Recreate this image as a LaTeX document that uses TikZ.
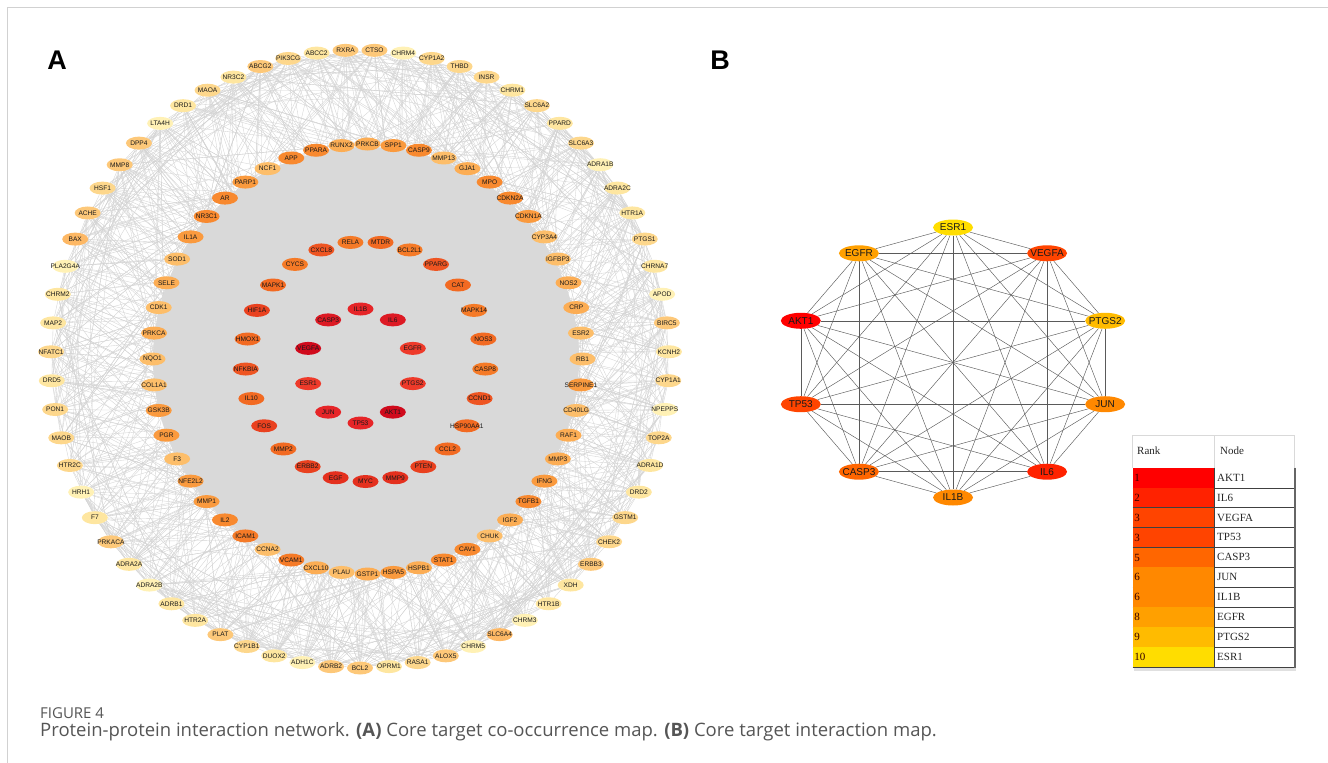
\documentclass[tikz,border=0pt]{standalone}
\usepackage{fontspec}
\setmainfont{Liberation Sans}
\newfontfamily\capfont{Open Sans}
\newfontfamily\tabfont{Liberation Serif}
\usetikzlibrary{shapes.geometric}

% node colours, outer ring -> core
\definecolor{oA}{HTML}{FFF1B5}
\definecolor{oB}{HTML}{FEE6A0}
\definecolor{oC}{HTML}{FDD78C}
\definecolor{oD}{HTML}{FDC879}
\definecolor{oE}{HTML}{FDB865}
\definecolor{mA}{HTML}{FDBE6A}
\definecolor{mB}{HTML}{FCAD54}
\definecolor{mC}{HTML}{FA9A3E}
\definecolor{mD}{HTML}{F8892F}
\definecolor{mE}{HTML}{F57A27}
\definecolor{tA}{HTML}{F57A27}
\definecolor{tB}{HTML}{F26A22}
\definecolor{tC}{HTML}{EE5522}
\definecolor{tD}{HTML}{E9411F}
\definecolor{tE}{HTML}{E4301E}
\definecolor{cA}{HTML}{EE3A2A}
\definecolor{cB}{HTML}{E62528}
\definecolor{cC}{HTML}{DD1A24}
\definecolor{cD}{HTML}{D00A1C}
% rank colours
\definecolor{rk1}{HTML}{FF0000}
\definecolor{rk2}{HTML}{FF2200}
\definecolor{rk3}{HTML}{FF4400}
\definecolor{rk5}{HTML}{FF6600}
\definecolor{rk6}{HTML}{FF8800}
\definecolor{rk8}{HTML}{FFA000}
\definecolor{rk9}{HTML}{FFBB00}
\definecolor{rk10}{HTML}{FFDD00}
\definecolor{webgray}{HTML}{D3D3D3}
\definecolor{diskgray}{HTML}{D9D9D9}
\definecolor{bondgray}{HTML}{5A5A5A}
\definecolor{capgray}{HTML}{555555}

\pgfdeclarelayer{web}
\pgfdeclarelayer{disk}
\pgfsetlayers{web,disk,main}

\begin{document}
\begin{tikzpicture}[x=1pt, y=-1pt,
        every node/.style = {inner sep=0pt},
        gene/.style = {ellipse, minimum width=26pt, minimum height=13pt,
                       font=\fontsize{6.6}{7}\selectfont, text=black!90},
        core/.style = {ellipse, minimum width=40pt, minimum height=16pt,
                       font=\fontsize{10}{11}\selectfont, text=black!90},
        webline/.style = {draw=webgray, line width=0.35pt},
        bond/.style = {draw=bondgray, line width=0.45pt},
        cell/.style = {rectangle, anchor=north west, minimum width=81.3pt, minimum height=19.9pt},
        tabtext/.style = {font=\tabfont\fontsize{11}{12}\selectfont, text=black!85, anchor=west}
        ]
\useasboundingbox (0,0) rectangle (1328,763);
\draw[draw=black!18, line width=1pt] (1328,7) -- (7,7) -- (7,763);

\node[font=\bfseries\fontsize{27}{30}\selectfont] (labA) at (57,60) {A};
\node[font=\bfseries\fontsize{27}{30}\selectfont] (labB) at (720,60) {B};

% panel A: outer ring
\foreach \nm/\cl [count=\i from 0] in {RXRA/oD, CTSO/oD, CHRM4/oA, CYP1A2/oC, THBD/oC, INSR/oC,
    CHRM1/oB, SLC6A2/oC, PPARD/oB, SLC6A3/oC, ADRA1B/oA, ADRA2C/oB, HTR1A/oB, PTGS1/oC,
    CHRNA7/oB, APOD/oA, BIRC5/oD, KCNH2/oB, CYP1A1/oC, NPEPPS/oA, TOP2A/oC, ADRA1D/oB,
    DRD2/oB, GSTM1/oC, CHEK2/oC, ERBB3/oD, XDH/oB, HTR1B/oB, CHRM3/oA, SLC6A4/oE,
    CHRM5/oA, ALOX5/oD, RASA1/oC, OPRM1/oB, BCL2/oD, ADRB2/oD, ADH1C/oA, DUOX2/oB,
    CYP1B1/oC, PLAT/oD, HTR2A/oB, ADRB1/oB, ADRA2B/oA, ADRA2A/oB, PRKACA/oD, F7/oB,
    HRH1/oA, HTR2C/oC, MAOB/oC, PON1/oC, DRD5/oB, NFATC1/oC, MAP2/oB, CHRM2/oB,
    PLA2G4A/oA, BAX/oE, ACHE/oD, HSF1/oC, MMP8/oD, DPP4/oD, LTA4H/oA, DRD1/oB,
    MAOA/oC, NR3C2/oB, ABCG2/oD, PIK3CG/oC, ABCC2/oB}
    \node[gene, fill=\cl] (o\i) at ({360+309*cos(92.69-\i*5.3731)}, {359-309*sin(92.69-\i*5.3731)}) {\makebox[0pt]{\nm}};

% second ring
\foreach \nm/\cl [count=\i from 0] in {RB1/mA, ESR2/mA, CRP/mB, NOS2/mB, IGFBP3/mA, CYP3A4/mA,
    CDKN1A/mC, CDKN2A/mD, MPO/mD, GJA1/mB, MMP13/mA, CASP9/mD, SPP1/mC, PRKCB/mB,
    RUNX2/mB, PPARA/mD, APP/mD, NCF1/mA, PARP1/mC, AR/mD, NR3C1/mD, IL1A/mC, SOD1/mA,
    SELE/mB, CDK1/mA, PRKCA/mB, NQO1/mA, COL1A1/mA, GSK3B/mC, PGR/mC, F3/mA, NFE2L2/mC,
    MMP1/mC, IL2/mD, ICAM1/mE, CCNA2/mA, VCAM1/mE, CXCL10/mB, PLAU/mA, GSTP1/mB,
    HSPA5/mC, HSPB1/mB, STAT1/mD, CAV1/mD, CHUK/mA, IGF2/mB, TGFB1/mD, IFNG/mC,
    MMP3/mB, RAF1/mB, CD40LG/mA, SERPINE1/mC}
    \node[gene, fill=\cl] (m\i) at ({367.5+215*cos(\i*6.9231)}, {359-215*sin(\i*6.9231)}) {\makebox[0pt]{\nm}};

% third ring
\foreach \nm/\cl [count=\i from 0] in {MYC/tE, EGF/tE, ERBB2/tD, MMP2/tB, FOS/tD, IL10/tB,
    NFKBIA/tC, HMOX1/tB, HIF1A/tD, MAPK1/tB, CYCS/tA, CXCL8/tC, RELA/tA, MTDR/tB,
    BCL2L1/tA, PPARG/tC, CAT/tB, MAPK14/tA, NOS3/tB, CASP8/tA, CCND1/tC, HSP90AA1/tB,
    CCL2/tB, PTEN/tD, MMP9/tE}
    \node[gene, fill=\cl] (t\i) at ({365.5+120*cos(-90-\i*14.4)}, {361.5-120*sin(-90-\i*14.4)}) {\makebox[0pt]{\nm}};

% core ring
\foreach \nm/\cl [count=\i from 0] in {IL1B/cB, IL6/cC, EGFR/cA, PTGS2/cA, AKT1/cD, TP53/cB,
    JUN/cB, ESR1/cA, VEGFA/cD, CASP3/cC}
    \node[gene, fill=\cl] (c\i) at ({360.5+55*cos(90-\i*36)}, {366-57*sin(90-\i*36)}) {\makebox[0pt]{\nm}};

\begin{pgfonlayer}{disk}
    \fill[diskgray] (366,360) circle (213);
\end{pgfonlayer}

\begin{pgfonlayer}{web}
    \pgfmathsetseed{11}
    \foreach \i in {0,...,66} {
        \foreach \k in {1,...,10} {
            \pgfmathtruncatemacro{\j}{random(0,51)}
            \draw[webline] (o\i) -- (m\j);
        }
        \foreach \k in {1,...,4} {
            \pgfmathtruncatemacro{\j}{random(0,24)}
            \draw[webline] (o\i) -- (t\j);
        }
        \foreach \k in {1,2} {
            \pgfmathtruncatemacro{\j}{random(0,9)}
            \draw[webline] (o\i) -- (c\j);
        }
        \foreach \k in {1,...,4} {
            \pgfmathtruncatemacro{\j}{mod(\i+random(2,12),67)}
            \draw[webline] (o\i) -- (o\j);
        }
    }
\end{pgfonlayer}

% panel B
\foreach \nm/\cl [count=\i from 0] in {ESR1/rk10, VEGFA/rk3, PTGS2/rk9, JUN/rk6, IL6/rk2,
    IL1B/rk6, CASP3/rk5, TP53/rk3, AKT1/rk1, EGFR/rk8}
    \node[core, fill=\cl] (b\i) at ({953+160*cos(90-\i*36)}, {362.5-135*sin(90-\i*36)}) {\makebox[0pt]{\nm}};

\begin{pgfonlayer}{web}
    \foreach \i in {0,...,8} {
        \pgfmathtruncatemacro{\s}{\i+1}
        \foreach \j in {\s,...,9}
            \draw[bond] (b\i) -- (b\j);
    }
\end{pgfonlayer}

% rank table
\draw[black!15, line width=0.8pt] (1132.7,467.7) |- (1294,435) -- (1294,467.7);
\draw[black!15, line width=0.8pt] (1214,435) -- (1214,467.7);
\node[tabtext] (hRank) at (1137,451) {Rank};
\node[tabtext] (hNode) at (1220,451) {Node};
\foreach \r/\nm/\cl [count=\i from 0] in {1/AKT1/rk1, 2/IL6/rk2, 3/VEGFA/rk3, 3/TP53/rk3,
    5/CASP3/rk5, 6/JUN/rk6, 6/IL1B/rk6, 8/EGFR/rk8, 9/PTGS2/rk9, 10/ESR1/rk10} {
    \node[cell, fill=\cl] (r\i) at (1132.7, {467.7+\i*19.9}) {};
    \node[tabtext, text=black!80!red] (rk\i) at ([xshift=1.5pt]r\i.west) {\r};
    \node[tabtext] (nd\i) at (1217, {477.65+\i*19.9}) {\nm};
    \draw[black!75, line width=0.9pt] (r\i.south west) -- ++(162,0);
}
\draw[black!12, line width=2.5pt] (1134,669.5) -- (1296,669.5);
\draw[black!75, line width=0.8pt] (1214,467.7) -- (1214,666.7);
\draw[black!60, line width=1.6pt] (1295,467.7) -- (1295,667.5);

% caption
\node[anchor=base west, font=\capfont\fontsize{15}{17}\selectfont, text=capgray] (fig) at (40,718) {FIGURE 4};
\node[anchor=base west, font=\capfont\fontsize{18.5}{21}\selectfont, text=capgray] (cap) at (40,736)
    {Protein-protein interaction network. \textbf{(A)} Core target co-occurrence map. \textbf{(B)} Core target interaction map.};
\end{tikzpicture}
\end{document}
